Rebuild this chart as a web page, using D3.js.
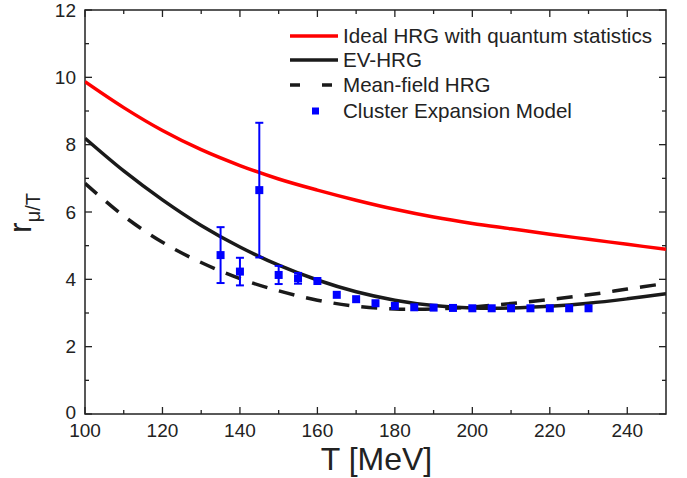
<!DOCTYPE html>
<html>
<head>
<meta charset="utf-8">
<script src="https://cdn.jsdelivr.net/npm/d3@7"></script>
<style>
  body { margin: 0; background: #fff; }
  svg { font-family: Arial, "Liberation Sans", Helvetica, sans-serif; }
</style>
</head>
<body>
<div id="chart"></div>
<script>
// temperature grid for the model curves
const temps = [100, 110, 120, 130, 140, 150, 160, 170, 180, 190, 200, 210, 220, 230, 240, 250];
const idealHRG = [9.87, 9.1, 8.42, 7.85, 7.38, 6.98, 6.65, 6.35, 6.08, 5.85, 5.66, 5.5, 5.34, 5.19, 5.04, 4.89];
const evHRG = [8.19, 7.22, 6.36, 5.6, 4.96, 4.42, 3.98, 3.63, 3.38, 3.22, 3.15, 3.15, 3.2, 3.29, 3.42, 3.57];
const mfHRG = [6.85, 5.88, 5.1, 4.5, 4.02, 3.66, 3.38, 3.2, 3.12, 3.12, 3.18, 3.28, 3.4, 3.54, 3.71, 3.88];

// cluster expansion model points
const cemT = [135, 140, 145, 150, 155, 160, 165, 170, 175, 180, 185, 190, 195, 200, 205, 210, 215, 220, 225, 230];
const cemR = [4.72, 4.23, 6.65, 4.13, 4.03, 3.95, 3.54, 3.41, 3.29, 3.21, 3.17, 3.16, 3.15, 3.14, 3.14, 3.14, 3.14, 3.14, 3.14, 3.14];
const cemErr = [0.83, 0.41, 2.0, 0.27, 0.16, 0, 0, 0, 0, 0, 0, 0, 0, 0, 0, 0, 0, 0, 0, 0];

const xTicks = [100, 120, 140, 160, 180, 200, 220, 240];
const yTicks = [0, 2, 4, 6, 8, 10, 12];
const legendLabels = ["Ideal HRG with quantum statistics", "EV-HRG", "Mean-field HRG", "Cluster Expansion Model"];

const width = 687, height = 478;
const margin = {top: 10, right: 21, bottom: 64, left: 85};

const svg = d3.select("#chart").append("svg")
    .attr("width", width)
    .attr("height", height);

const x = d3.scaleLinear().domain([100, 250]).range([margin.left, width - margin.right]);
const y = d3.scaleLinear().domain([0, 12]).range([height - margin.bottom, margin.top]);

const axisColor = "#222";

// frame
svg.append("rect")
    .attr("x", x(100)).attr("y", y(12))
    .attr("width", x(250) - x(100)).attr("height", y(0) - y(12))
    .attr("fill", "none").attr("stroke", axisColor).attr("stroke-width", 1.5);

// ticks, inward on all four sides
const xMinor = d3.range(110, 250, 20);
const yMinor = d3.range(1, 12, 2);
const gTicks = svg.append("g").attr("stroke", axisColor).attr("stroke-width", 1.3);

function xTick(v, len) {
  gTicks.append("line").attr("x1", x(v)).attr("x2", x(v)).attr("y1", y(0)).attr("y2", y(0) - len);
  gTicks.append("line").attr("x1", x(v)).attr("x2", x(v)).attr("y1", y(12)).attr("y2", y(12) + len);
}
function yTick(v, len) {
  gTicks.append("line").attr("y1", y(v)).attr("y2", y(v)).attr("x1", x(100)).attr("x2", x(100) + len);
  gTicks.append("line").attr("y1", y(v)).attr("y2", y(v)).attr("x1", x(250)).attr("x2", x(250) - len);
}
xTicks.forEach(v => xTick(v, 7));
xMinor.forEach(v => xTick(v, 4));
yTicks.forEach(v => yTick(v, 7));
yMinor.forEach(v => yTick(v, 4));

// tick labels
svg.append("g").selectAll("text").data(xTicks).join("text")
    .attr("x", d => x(d)).attr("y", y(0) + 23)
    .attr("text-anchor", "middle").attr("font-size", 19).attr("fill", axisColor)
    .text(d => d);

svg.append("g").selectAll("text").data(yTicks).join("text")
    .attr("x", x(100) - 9).attr("y", d => y(d) - (d === 0 ? 2 : 0)).attr("dy", "0.35em")
    .attr("text-anchor", "end").attr("font-size", 19).attr("fill", axisColor)
    .text(d => d);

// axis titles
svg.append("text")
    .attr("x", (x(100) + x(250)) / 2 + 1).attr("y", 470)
    .attr("text-anchor", "middle").attr("font-size", 32).attr("fill", axisColor)
    .text("T [MeV]");

const yTitle = svg.append("text")
    .attr("transform", "translate(31,233) rotate(-90)")
    .attr("fill", axisColor);
yTitle.append("tspan").attr("font-size", 32).text("r");
yTitle.append("tspan").attr("font-size", 20).attr("dy", 9).text("μ/T");

// model curves
const line = d3.line()
    .x(d => x(d[0]))
    .y(d => y(d[1]))
    .curve(d3.curveCatmullRom);

svg.append("clipPath").attr("id", "plot-clip").append("rect")
    .attr("x", x(100)).attr("y", y(12))
    .attr("width", x(250) - x(100)).attr("height", y(0) - y(12));

const gCurves = svg.append("g").attr("clip-path", "url(#plot-clip)").attr("fill", "none");

gCurves.append("path")
    .attr("d", line(d3.zip(temps, idealHRG)))
    .attr("stroke", "#ff0000").attr("stroke-width", 3.5);

gCurves.append("path")
    .attr("d", line(d3.zip(temps, evHRG)))
    .attr("stroke", "#1a1a1a").attr("stroke-width", 3.5);

gCurves.append("path")
    .attr("d", line(d3.zip(temps, mfHRG)))
    .attr("stroke", "#1a1a1a").attr("stroke-width", 3.5)
    .attr("stroke-dasharray", "16,12");

// data points with error bars
const blue = "#0000ff";
const pts = cemT.map((t, i) => ({t, r: cemR[i], e: cemErr[i]}));
const gErr = svg.append("g").attr("stroke", blue).attr("stroke-width", 2);
pts.filter(d => d.e > 0).forEach(d => {
  gErr.append("line").attr("x1", x(d.t)).attr("x2", x(d.t)).attr("y1", y(d.r - d.e)).attr("y2", y(d.r + d.e));
  gErr.append("line").attr("x1", x(d.t) - 4).attr("x2", x(d.t) + 4).attr("y1", y(d.r - d.e)).attr("y2", y(d.r - d.e));
  gErr.append("line").attr("x1", x(d.t) - 4).attr("x2", x(d.t) + 4).attr("y1", y(d.r + d.e)).attr("y2", y(d.r + d.e));
});

svg.append("g").selectAll("rect").data(pts).join("rect")
    .attr("x", d => x(d.t) - 4).attr("y", d => y(d.r) - 4)
    .attr("width", 8).attr("height", 8)
    .attr("fill", blue);

// legend
const legend = svg.append("g");
const legY = [36, 60, 85, 111];
legend.append("line").attr("x1", 290).attr("x2", 338).attr("y1", legY[0]).attr("y2", legY[0])
    .attr("stroke", "#ff0000").attr("stroke-width", 3.5);
legend.append("line").attr("x1", 290).attr("x2", 338).attr("y1", legY[1]).attr("y2", legY[1])
    .attr("stroke", "#1a1a1a").attr("stroke-width", 3.5);
legend.append("line").attr("x1", 290).attr("x2", 338).attr("y1", legY[2]).attr("y2", legY[2])
    .attr("stroke", "#1a1a1a").attr("stroke-width", 3.5).attr("stroke-dasharray", "10,22");
legend.append("rect").attr("x", 312).attr("y", legY[3] - 3.5).attr("width", 7).attr("height", 7)
    .attr("fill", blue);

legend.selectAll("text").data(legendLabels).join("text")
    .attr("x", 343).attr("y", (d, i) => legY[i]).attr("dy", "0.35em")
    .attr("font-size", 20.6).attr("fill", axisColor)
    .text(d => d);
</script>
</body>
</html>
